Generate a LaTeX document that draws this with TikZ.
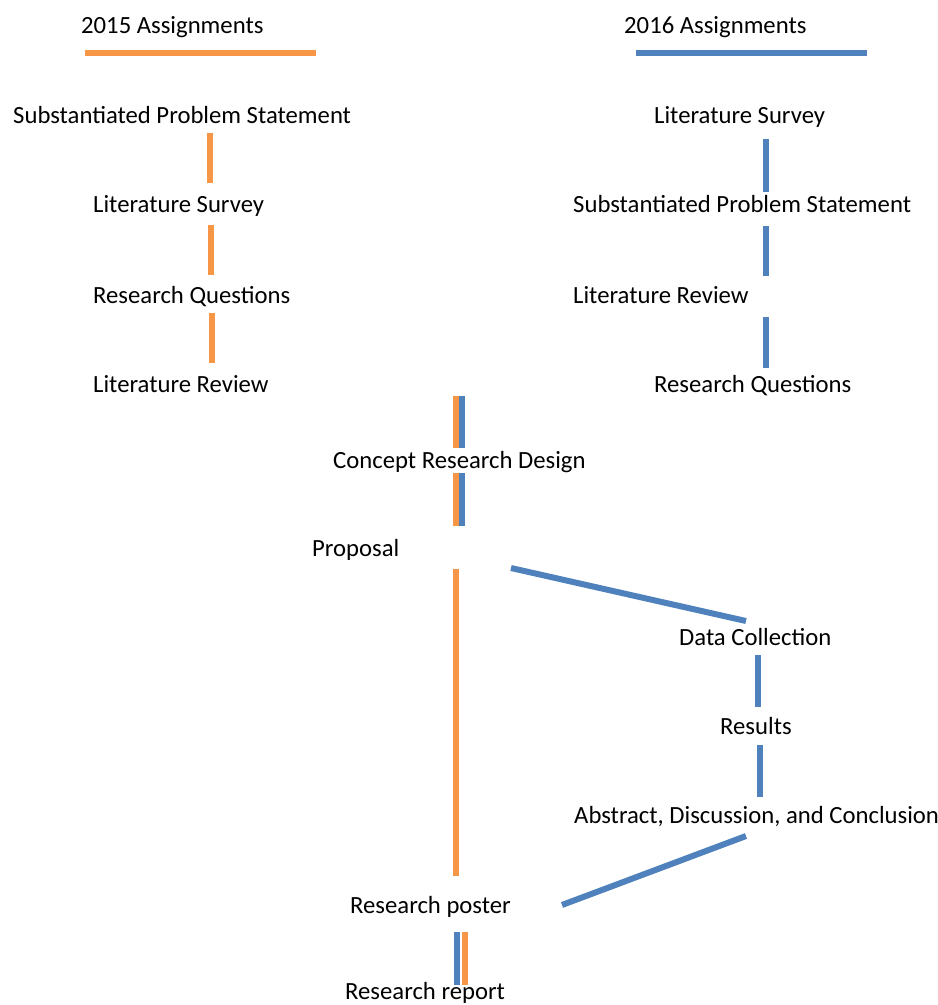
\documentclass[tikz,border=0pt]{standalone}
\usepackage{fontspec}
\setmainfont{Carlito}
\definecolor{orng}{RGB}{247,150,70}
\definecolor{blu}{RGB}{79,129,189}
\begin{document}
\begin{tikzpicture}[x=1pt,y=-1pt,
  lbl/.style={anchor=base west,inner sep=0pt,font=\fontsize{24.7}{28}\selectfont},
  ol/.style={draw=orng,line width=6pt},
  bl/.style={draw=blu,line width=6pt}]
\useasboundingbox (0,0) rectangle (938,1005);
% headers
\node[lbl] (h15) at (81,33) {2015 Assignments};
\node[lbl] (h16) at (624,33) {2016 Assignments};
\coordinate (o1) at (85,53); \coordinate (o2) at (316,53);
\coordinate (b1) at (636,53); \coordinate (b2) at (867,53);
\draw[ol] (o1) -- (o2);
\draw[bl] (b1) -- (b2);
% left column
\node[lbl] (l1) at (13,123) {Substantiated Problem Statement};
\node[lbl] (l2) at (93,212) {Literature Survey};
\node[lbl] (l3) at (93,303) {Research Questions};
\node[lbl] (l4) at (93,392) {Literature Review};
% right column
\node[lbl] (r1) at (654,123) {Literature Survey};
\node[lbl] (r2) at (573,212) {Substantiated Problem Statement};
\node[lbl] (r3) at (573,303) {Literature Review};
\node[lbl] (r4) at (654,392) {Research Questions};
% merged
\node[lbl] (c1) at (333,468) {Concept Research Design};
\node[lbl] (c2) at (312,556) {Proposal};
\node[lbl] (d1) at (679,645) {Data Collection};
\node[lbl] (d2) at (720,734) {Results};
\node[lbl] (d3) at (574,823) {Abstract, Discussion, and Conclusion};
\node[lbl] (p1) at (350,913) {Research poster};
\node[lbl] (p2) at (345,999) {Research report};
% left connectors
\draw[ol] (210,133) -- (210,183);
\draw[ol] (211,225) -- (211,275);
\draw[ol] (212,313) -- (212,363);
% right connectors
\draw[bl] (766,139) -- (766,192);
\draw[bl] (766,226) -- (766,276);
\draw[bl] (766,317) -- (766,368);
% double connectors
\draw[ol] (456,396) -- (456,448);
\draw[bl] (462,396) -- (462,448);
\draw[ol] (456,473) -- (456,526);
\draw[bl] (462,473) -- (462,526);
% proposal to poster
\draw[ol] (456,569) -- (456,876);
% proposal to data collection
\draw[bl] (511,568) -- (746,621);
\draw[bl] (758,655) -- (758,707);
\draw[bl] (760,745) -- (760,797);
\draw[bl] (746,836) -- (562,905);
% poster to report
\draw[bl] (457,932) -- (457,985);
\draw[ol] (465,932) -- (465,985);
\end{tikzpicture}
\end{document}
